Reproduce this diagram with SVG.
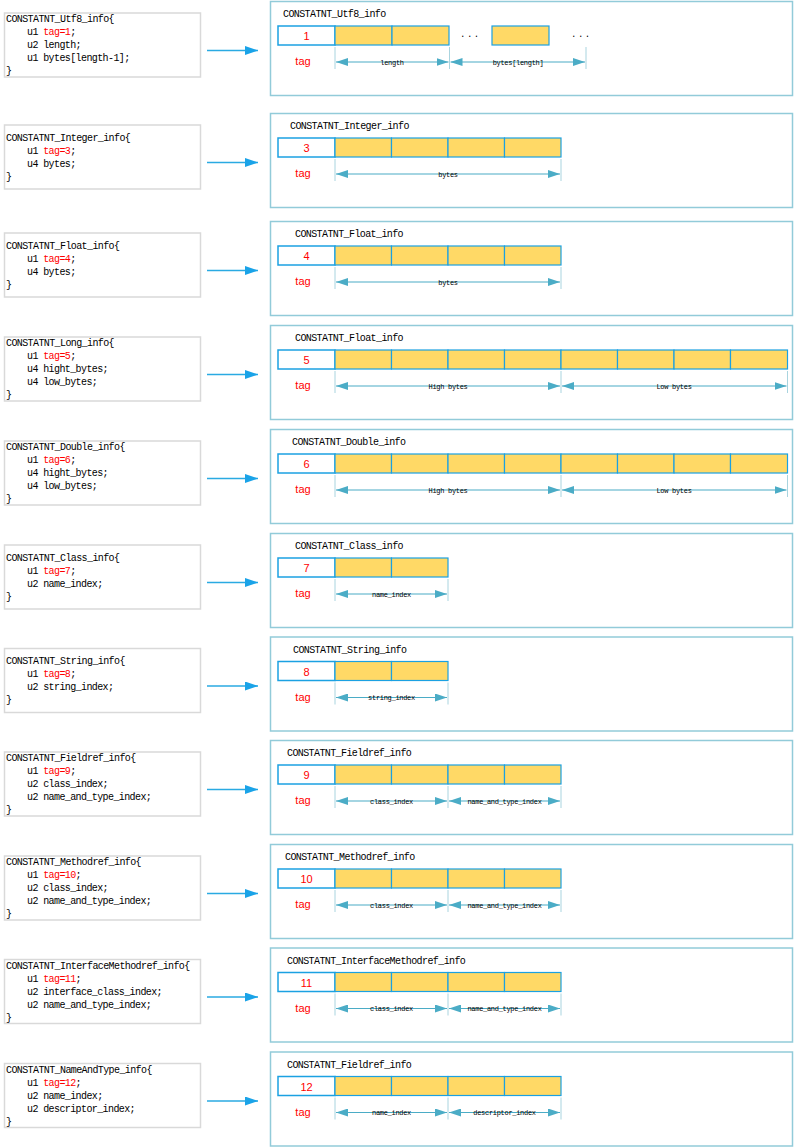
<svg xmlns="http://www.w3.org/2000/svg" width="794" height="1147" viewBox="0 0 794 1147">
  <defs>
    <style>
      .lbox { fill: #ffffff; stroke: #d9d9d9; stroke-width: 1.5; }
      .rbox { fill: #ffffff; stroke: #92cbd9; stroke-width: 1.5; }
      .code { font-family: "Liberation Mono", "DejaVu Sans Mono", monospace; font-size: 10px; letter-spacing: -0.6px; fill: #000000; }
      .r { fill: #ff0000; }
      .title { font-family: "Liberation Mono", "DejaVu Sans Mono", monospace; font-size: 10px; letter-spacing: -0.6px; fill: #000000; }
      .tagcell { fill: #ffffff; stroke: #1ba1e2; stroke-width: 1.5; }
      .cell { fill: #ffd966; stroke: #1ba1e2; stroke-width: 1.2; }
      .num { font-family: "Liberation Sans", Arial, sans-serif; font-size: 11px; fill: #ff0000; text-anchor: middle; }
      .tag { font-family: "Liberation Sans", Arial, sans-serif; font-size: 11px; fill: #ff0000; text-anchor: middle; }
      .ext { stroke: #a9d4df; stroke-width: 1; }
      .dim { stroke: #4bacc6; stroke-width: 1.2; marker-start: url(#dimhead); marker-end: url(#dimhead); }
      .dlabel { font-family: "Liberation Mono", "DejaVu Sans Mono", monospace; font-size: 7px; letter-spacing: -0.3px; fill: #000000; text-anchor: middle; }
      .dots { font-family: "Liberation Mono", monospace; font-size: 9px; letter-spacing: 1.5px; fill: #000000; }
      .conn { stroke: #2aaae2; stroke-width: 1.5; fill: none; marker-end: url(#connhead); }
    </style>
    <marker id="dimhead" viewBox="0 0 12 8" refX="12" refY="4" markerWidth="12" markerHeight="8" markerUnits="userSpaceOnUse" orient="auto-start-reverse">
      <path d="M0,0 L12,4 L0,8 Z" fill="#4bacc6"/>
    </marker>
    <marker id="connhead" viewBox="0 0 13 9" refX="13" refY="4.5" markerWidth="13" markerHeight="9" markerUnits="userSpaceOnUse" orient="auto">
      <path d="M0,0 L13,4.5 L0,9 Z" fill="#1aa3e8"/>
    </marker>
  </defs>

  <rect width="794" height="1147" fill="#ffffff"/>

  <!-- struct declarations (left column) -->
  <g id="decl-utf8" transform="translate(0,12.5)">
    <rect class="lbox" x="4.5" y="0.5" width="196" height="64"/>
    <text class="code" x="6" y="9.5">CONSTATNT_Utf8_info{</text>
    <text class="code" x="27" y="22.5">u1 <tspan class="r">tag=1</tspan>;</text>
    <text class="code" x="27" y="35.5">u2 length;</text>
    <text class="code" x="27" y="48.5">u1 bytes[length-1];</text>
    <text class="code" x="6" y="61.5">}</text>
  </g>
  <g id="decl-integer" transform="translate(0,124.5)">
    <rect class="lbox" x="4.5" y="0.5" width="196" height="64"/>
    <text class="code" x="6" y="16">CONSTATNT_Integer_info{</text>
    <text class="code" x="27" y="29">u1 <tspan class="r">tag=3</tspan>;</text>
    <text class="code" x="27" y="42">u4 bytes;</text>
    <text class="code" x="6" y="55">}</text>
  </g>
  <g id="decl-float" transform="translate(0,232.5)">
    <rect class="lbox" x="4.5" y="0.5" width="196" height="64"/>
    <text class="code" x="6" y="16">CONSTATNT_Float_info{</text>
    <text class="code" x="27" y="29">u1 <tspan class="r">tag=4</tspan>;</text>
    <text class="code" x="27" y="42">u4 bytes;</text>
    <text class="code" x="6" y="55">}</text>
  </g>
  <g id="decl-long" transform="translate(0,336.5)">
    <rect class="lbox" x="4.5" y="0.5" width="196" height="64"/>
    <text class="code" x="6" y="9.5">CONSTATNT_Long_info{</text>
    <text class="code" x="27" y="22.5">u1 <tspan class="r">tag=5</tspan>;</text>
    <text class="code" x="27" y="35.5">u4 hight_bytes;</text>
    <text class="code" x="27" y="48.5">u4 low_bytes;</text>
    <text class="code" x="6" y="61.5">}</text>
  </g>
  <g id="decl-double" transform="translate(0,440.5)">
    <rect class="lbox" x="4.5" y="0.5" width="196" height="64"/>
    <text class="code" x="6" y="9.5">CONSTATNT_Double_info{</text>
    <text class="code" x="27" y="22.5">u1 <tspan class="r">tag=6</tspan>;</text>
    <text class="code" x="27" y="35.5">u4 hight_bytes;</text>
    <text class="code" x="27" y="48.5">u4 low_bytes;</text>
    <text class="code" x="6" y="61.5">}</text>
  </g>
  <g id="decl-class" transform="translate(0,544.5)">
    <rect class="lbox" x="4.5" y="0.5" width="196" height="64"/>
    <text class="code" x="6" y="16">CONSTATNT_Class_info{</text>
    <text class="code" x="27" y="29">u1 <tspan class="r">tag=7</tspan>;</text>
    <text class="code" x="27" y="42">u2 name_index;</text>
    <text class="code" x="6" y="55">}</text>
  </g>
  <g id="decl-string" transform="translate(0,648)">
    <rect class="lbox" x="4.5" y="0.5" width="196" height="64"/>
    <text class="code" x="6" y="16">CONSTATNT_String_info{</text>
    <text class="code" x="27" y="29">u1 <tspan class="r">tag=8</tspan>;</text>
    <text class="code" x="27" y="42">u2 string_index;</text>
    <text class="code" x="6" y="55">}</text>
  </g>
  <g id="decl-fieldref" transform="translate(0,751.5)">
    <rect class="lbox" x="4.5" y="0.5" width="196" height="64"/>
    <text class="code" x="6" y="9.5">CONSTATNT_Fieldref_info{</text>
    <text class="code" x="27" y="22.5">u1 <tspan class="r">tag=9</tspan>;</text>
    <text class="code" x="27" y="35.5">u2 class_index;</text>
    <text class="code" x="27" y="48.5">u2 name_and_type_index;</text>
    <text class="code" x="6" y="61.5">}</text>
  </g>
  <g id="decl-methodref" transform="translate(0,855.5)">
    <rect class="lbox" x="4.5" y="0.5" width="196" height="64"/>
    <text class="code" x="6" y="9.5">CONSTATNT_Methodref_info{</text>
    <text class="code" x="27" y="22.5">u1 <tspan class="r">tag=10</tspan>;</text>
    <text class="code" x="27" y="35.5">u2 class_index;</text>
    <text class="code" x="27" y="48.5">u2 name_and_type_index;</text>
    <text class="code" x="6" y="61.5">}</text>
  </g>
  <g id="decl-interfacemethodref" transform="translate(0,959)">
    <rect class="lbox" x="4.5" y="0.5" width="196" height="64"/>
    <text class="code" x="6" y="9.5">CONSTATNT_InterfaceMethodref_info{</text>
    <text class="code" x="27" y="22.5">u1 <tspan class="r">tag=11</tspan>;</text>
    <text class="code" x="27" y="35.5">u2 interface_class_index;</text>
    <text class="code" x="27" y="48.5">u2 name_and_type_index;</text>
    <text class="code" x="6" y="61.5">}</text>
  </g>
  <g id="decl-nameandtype" transform="translate(0,1063)">
    <rect class="lbox" x="4.5" y="0.5" width="196" height="64"/>
    <text class="code" x="6" y="9.5">CONSTATNT_NameAndType_info{</text>
    <text class="code" x="27" y="22.5">u1 <tspan class="r">tag=12</tspan>;</text>
    <text class="code" x="27" y="35.5">u2 name_index;</text>
    <text class="code" x="27" y="48.5">u2 descriptor_index;</text>
    <text class="code" x="6" y="61.5">}</text>
  </g>

  <!-- connectors from declarations to byte layouts -->
  <g id="connectors">
    <line class="conn" x1="207" y1="50.5" x2="258" y2="50.5"/>
    <line class="conn" x1="207" y1="162.5" x2="258" y2="162.5"/>
    <line class="conn" x1="207" y1="270.5" x2="258" y2="270.5"/>
    <line class="conn" x1="207" y1="374.5" x2="258" y2="374.5"/>
    <line class="conn" x1="207" y1="478.5" x2="258" y2="478.5"/>
    <line class="conn" x1="207" y1="582.5" x2="258" y2="582.5"/>
    <line class="conn" x1="207" y1="686" x2="258" y2="686"/>
    <line class="conn" x1="207" y1="789.5" x2="258" y2="789.5"/>
    <line class="conn" x1="207" y1="893.5" x2="258" y2="893.5"/>
    <line class="conn" x1="207" y1="997" x2="258" y2="997"/>
    <line class="conn" x1="207" y1="1101" x2="258" y2="1101"/>
  </g>

  <!-- byte layouts (right column) -->
  <g id="layout-utf8" transform="translate(0,1)">
    <rect class="rbox" x="270.5" y="0.5" width="522" height="94"/>
    <text class="title" x="283" y="16">CONSTATNT_Utf8_info</text>
    <rect class="tagcell" x="278" y="25" width="57" height="19"/>
    <text class="num" x="306.5" y="39">1</text>
    <rect class="cell" x="335" y="25" width="57" height="19"/>
    <rect class="cell" x="392" y="25" width="57" height="19"/>
    <text class="dots" x="460" y="36">...</text>
    <rect class="cell" x="492" y="25" width="57" height="19"/>
    <text class="dots" x="571" y="36">...</text>
    <text class="tag" x="303" y="64">tag</text>
    <line class="ext" x1="335" y1="46" x2="335" y2="68"/>
    <line class="ext" x1="449.5" y1="46" x2="449.5" y2="68"/>
    <line class="ext" x1="586" y1="46" x2="586" y2="68"/>
    <line class="dim" x1="336" y1="61" x2="448.5" y2="61"/>
    <line class="dim" x1="450.5" y1="61" x2="585" y2="61"/>
    <text class="dlabel" x="392" y="63.5">length</text>
    <text class="dlabel" x="518" y="63.5">bytes[length]</text>
  </g>

  <g id="layout-integer" transform="translate(0,113)">
    <rect class="rbox" x="270.5" y="0.5" width="522" height="94"/>
    <text class="title" x="290" y="16">CONSTATNT_Integer_info</text>
    <rect class="tagcell" x="278" y="25" width="57" height="19"/>
    <text class="num" x="306.5" y="39">3</text>
    <rect class="cell" x="335" y="25" width="56.5" height="19"/>
    <rect class="cell" x="391.5" y="25" width="56.5" height="19"/>
    <rect class="cell" x="448" y="25" width="56.5" height="19"/>
    <rect class="cell" x="504.5" y="25" width="56.5" height="19"/>
    <text class="tag" x="303" y="64">tag</text>
    <line class="ext" x1="335" y1="46" x2="335" y2="68"/>
    <line class="ext" x1="561" y1="46" x2="561" y2="68"/>
    <line class="dim" x1="336" y1="61" x2="560" y2="61"/>
    <text class="dlabel" x="448" y="63.5">bytes</text>
  </g>

  <g id="layout-float" transform="translate(0,221)">
    <rect class="rbox" x="270.5" y="0.5" width="522" height="94"/>
    <text class="title" x="295" y="16">CONSTATNT_Float_info</text>
    <rect class="tagcell" x="278" y="25" width="57" height="19"/>
    <text class="num" x="306.5" y="39">4</text>
    <rect class="cell" x="335" y="25" width="56.5" height="19"/>
    <rect class="cell" x="391.5" y="25" width="56.5" height="19"/>
    <rect class="cell" x="448" y="25" width="56.5" height="19"/>
    <rect class="cell" x="504.5" y="25" width="56.5" height="19"/>
    <text class="tag" x="303" y="64">tag</text>
    <line class="ext" x1="335" y1="46" x2="335" y2="68"/>
    <line class="ext" x1="561" y1="46" x2="561" y2="68"/>
    <line class="dim" x1="336" y1="61" x2="560" y2="61"/>
    <text class="dlabel" x="448" y="63.5">bytes</text>
  </g>

  <g id="layout-long" transform="translate(0,325)">
    <rect class="rbox" x="270.5" y="0.5" width="522" height="94"/>
    <text class="title" x="295" y="16">CONSTATNT_Float_info</text>
    <rect class="tagcell" x="278" y="25" width="57" height="19"/>
    <text class="num" x="306.5" y="39">5</text>
    <rect class="cell" x="335" y="25" width="56.5" height="19"/>
    <rect class="cell" x="391.5" y="25" width="56.5" height="19"/>
    <rect class="cell" x="448" y="25" width="56.5" height="19"/>
    <rect class="cell" x="504.5" y="25" width="56.5" height="19"/>
    <rect class="cell" x="561" y="25" width="56.5" height="19"/>
    <rect class="cell" x="617.5" y="25" width="56.5" height="19"/>
    <rect class="cell" x="674" y="25" width="56.5" height="19"/>
    <rect class="cell" x="730.5" y="25" width="57" height="19"/>
    <text class="tag" x="303" y="64">tag</text>
    <line class="ext" x1="335" y1="46" x2="335" y2="68"/>
    <line class="ext" x1="561" y1="46" x2="561" y2="68"/>
    <line class="ext" x1="787.5" y1="46" x2="787.5" y2="68"/>
    <line class="dim" x1="336" y1="61" x2="560" y2="61"/>
    <line class="dim" x1="562" y1="61" x2="786.5" y2="61"/>
    <text class="dlabel" x="448" y="63.5">High bytes</text>
    <text class="dlabel" x="674" y="63.5">Low bytes</text>
  </g>

  <g id="layout-double" transform="translate(0,429)">
    <rect class="rbox" x="270.5" y="0.5" width="522" height="94"/>
    <text class="title" x="292" y="16">CONSTATNT_Double_info</text>
    <rect class="tagcell" x="278" y="25" width="57" height="19"/>
    <text class="num" x="306.5" y="39">6</text>
    <rect class="cell" x="335" y="25" width="56.5" height="19"/>
    <rect class="cell" x="391.5" y="25" width="56.5" height="19"/>
    <rect class="cell" x="448" y="25" width="56.5" height="19"/>
    <rect class="cell" x="504.5" y="25" width="56.5" height="19"/>
    <rect class="cell" x="561" y="25" width="56.5" height="19"/>
    <rect class="cell" x="617.5" y="25" width="56.5" height="19"/>
    <rect class="cell" x="674" y="25" width="56.5" height="19"/>
    <rect class="cell" x="730.5" y="25" width="57" height="19"/>
    <text class="tag" x="303" y="64">tag</text>
    <line class="ext" x1="335" y1="46" x2="335" y2="68"/>
    <line class="ext" x1="561" y1="46" x2="561" y2="68"/>
    <line class="ext" x1="787.5" y1="46" x2="787.5" y2="68"/>
    <line class="dim" x1="336" y1="61" x2="560" y2="61"/>
    <line class="dim" x1="562" y1="61" x2="786.5" y2="61"/>
    <text class="dlabel" x="448" y="63.5">High bytes</text>
    <text class="dlabel" x="674" y="63.5">Low bytes</text>
  </g>

  <g id="layout-class" transform="translate(0,533)">
    <rect class="rbox" x="270.5" y="0.5" width="522" height="94"/>
    <text class="title" x="295" y="16">CONSTATNT_Class_info</text>
    <rect class="tagcell" x="278" y="25" width="57" height="19"/>
    <text class="num" x="306.5" y="39">7</text>
    <rect class="cell" x="335" y="25" width="56.5" height="19"/>
    <rect class="cell" x="391.5" y="25" width="56.5" height="19"/>
    <text class="tag" x="303" y="64">tag</text>
    <line class="ext" x1="335" y1="46" x2="335" y2="68"/>
    <line class="ext" x1="448" y1="46" x2="448" y2="68"/>
    <line class="dim" x1="336" y1="61" x2="447" y2="61"/>
    <text class="dlabel" x="391.5" y="63.5">name_index</text>
  </g>

  <g id="layout-string" transform="translate(0,636.5)">
    <rect class="rbox" x="270.5" y="0.5" width="522" height="94"/>
    <text class="title" x="293" y="16">CONSTATNT_String_info</text>
    <rect class="tagcell" x="278" y="25" width="57" height="19"/>
    <text class="num" x="306.5" y="39">8</text>
    <rect class="cell" x="335" y="25" width="56.5" height="19"/>
    <rect class="cell" x="391.5" y="25" width="56.5" height="19"/>
    <text class="tag" x="303" y="64">tag</text>
    <line class="ext" x1="335" y1="46" x2="335" y2="68"/>
    <line class="ext" x1="448" y1="46" x2="448" y2="68"/>
    <line class="dim" x1="336" y1="61" x2="447" y2="61"/>
    <text class="dlabel" x="391.5" y="63.5">string_index</text>
  </g>

  <g id="layout-fieldref" transform="translate(0,740)">
    <rect class="rbox" x="270.5" y="0.5" width="522" height="94"/>
    <text class="title" x="287" y="16">CONSTATNT_Fieldref_info</text>
    <rect class="tagcell" x="278" y="25" width="57" height="19"/>
    <text class="num" x="306.5" y="39">9</text>
    <rect class="cell" x="335" y="25" width="56.5" height="19"/>
    <rect class="cell" x="391.5" y="25" width="56.5" height="19"/>
    <rect class="cell" x="448" y="25" width="56.5" height="19"/>
    <rect class="cell" x="504.5" y="25" width="56.5" height="19"/>
    <text class="tag" x="303" y="64">tag</text>
    <line class="ext" x1="335" y1="46" x2="335" y2="68"/>
    <line class="ext" x1="448" y1="46" x2="448" y2="68"/>
    <line class="ext" x1="561" y1="46" x2="561" y2="68"/>
    <line class="dim" x1="336" y1="61" x2="447" y2="61"/>
    <line class="dim" x1="449" y1="61" x2="560" y2="61"/>
    <text class="dlabel" x="391.5" y="63.5">class_index</text>
    <text class="dlabel" x="504.5" y="63.5">name_and_type_index</text>
  </g>

  <g id="layout-methodref" transform="translate(0,844)">
    <rect class="rbox" x="270.5" y="0.5" width="522" height="94"/>
    <text class="title" x="285" y="16">CONSTATNT_Methodref_info</text>
    <rect class="tagcell" x="278" y="25" width="57" height="19"/>
    <text class="num" x="306.5" y="39">10</text>
    <rect class="cell" x="335" y="25" width="56.5" height="19"/>
    <rect class="cell" x="391.5" y="25" width="56.5" height="19"/>
    <rect class="cell" x="448" y="25" width="56.5" height="19"/>
    <rect class="cell" x="504.5" y="25" width="56.5" height="19"/>
    <text class="tag" x="303" y="64">tag</text>
    <line class="ext" x1="335" y1="46" x2="335" y2="68"/>
    <line class="ext" x1="448" y1="46" x2="448" y2="68"/>
    <line class="ext" x1="561" y1="46" x2="561" y2="68"/>
    <line class="dim" x1="336" y1="61" x2="447" y2="61"/>
    <line class="dim" x1="449" y1="61" x2="560" y2="61"/>
    <text class="dlabel" x="391.5" y="63.5">class_index</text>
    <text class="dlabel" x="504.5" y="63.5">name_and_type_index</text>
  </g>

  <g id="layout-interfacemethodref" transform="translate(0,947.5)">
    <rect class="rbox" x="270.5" y="0.5" width="522" height="94"/>
    <text class="title" x="287" y="16">CONSTATNT_InterfaceMethodref_info</text>
    <rect class="tagcell" x="278" y="25" width="57" height="19"/>
    <text class="num" x="306.5" y="39">11</text>
    <rect class="cell" x="335" y="25" width="56.5" height="19"/>
    <rect class="cell" x="391.5" y="25" width="56.5" height="19"/>
    <rect class="cell" x="448" y="25" width="56.5" height="19"/>
    <rect class="cell" x="504.5" y="25" width="56.5" height="19"/>
    <text class="tag" x="303" y="64">tag</text>
    <line class="ext" x1="335" y1="46" x2="335" y2="68"/>
    <line class="ext" x1="448" y1="46" x2="448" y2="68"/>
    <line class="ext" x1="561" y1="46" x2="561" y2="68"/>
    <line class="dim" x1="336" y1="61" x2="447" y2="61"/>
    <line class="dim" x1="449" y1="61" x2="560" y2="61"/>
    <text class="dlabel" x="391.5" y="63.5">class_index</text>
    <text class="dlabel" x="504.5" y="63.5">name_and_type_index</text>
  </g>

  <g id="layout-nameandtype" transform="translate(0,1051.5)">
    <rect class="rbox" x="270.5" y="0.5" width="522" height="94"/>
    <text class="title" x="287" y="16">CONSTATNT_Fieldref_info</text>
    <rect class="tagcell" x="278" y="25" width="57" height="19"/>
    <text class="num" x="306.5" y="39">12</text>
    <rect class="cell" x="335" y="25" width="56.5" height="19"/>
    <rect class="cell" x="391.5" y="25" width="56.5" height="19"/>
    <rect class="cell" x="448" y="25" width="56.5" height="19"/>
    <rect class="cell" x="504.5" y="25" width="56.5" height="19"/>
    <text class="tag" x="303" y="64">tag</text>
    <line class="ext" x1="335" y1="46" x2="335" y2="68"/>
    <line class="ext" x1="448" y1="46" x2="448" y2="68"/>
    <line class="ext" x1="561" y1="46" x2="561" y2="68"/>
    <line class="dim" x1="336" y1="61" x2="447" y2="61"/>
    <line class="dim" x1="449" y1="61" x2="560" y2="61"/>
    <text class="dlabel" x="391.5" y="63.5">name_index</text>
    <text class="dlabel" x="504.5" y="63.5">descriptor_index</text>
  </g>
</svg>
